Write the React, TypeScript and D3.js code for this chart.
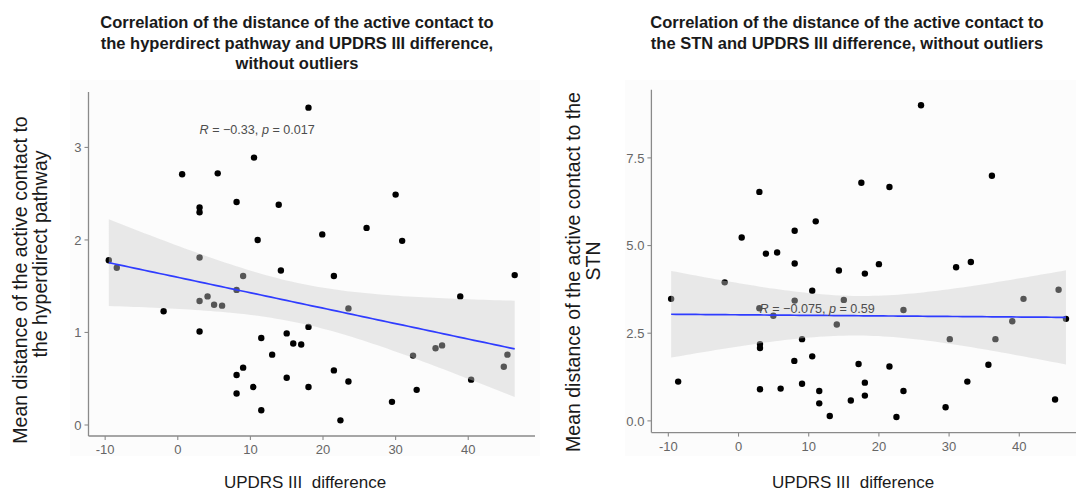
import React, { useRef, useEffect } from "react";
import * as d3 from "d3";

// distance to hyperdirect pathway vs UPDRS III difference
const hdpX = [-9.5, -8.4, -1.95, 0.6, 3.0, 3.0, 3.0, 3.0, 3.0, 4.1, 5.0, 5.5, 6.1, 8.1, 8.1, 8.1, 8.1, 9.0, 9.0, 10.4, 10.5, 11.0, 11.5, 11.5, 13.0, 13.9, 14.2, 15.0, 15.0, 15.9, 17.0, 18.0, 18.0, 18.0, 19.9, 21.5, 21.5, 22.4, 23.5, 23.5, 26.0, 29.5, 30.0, 30.9, 32.4, 32.9, 35.5, 36.4, 38.9, 40.4, 44.9, 45.4, 46.4];
const hdpY = [1.78, 1.70, 1.23, 2.71, 2.35, 2.30, 1.81, 1.34, 1.01, 1.39, 1.30, 2.72, 1.29, 2.41, 1.46, 0.54, 0.34, 1.61, 0.62, 0.41, 2.89, 2.00, 0.94, 0.16, 0.76, 2.38, 1.67, 0.99, 0.51, 0.88, 0.87, 3.43, 1.06, 0.41, 2.06, 1.61, 0.59, 0.05, 1.26, 0.47, 2.13, 0.25, 2.49, 1.99, 0.75, 0.38, 0.83, 0.86, 1.39, 0.49, 0.63, 0.76, 1.62];

// distance to STN vs UPDRS III difference
const stnX = [-9.6, -8.6, -1.97, 0.45, 2.97, 2.97, 3.06, 3.06, 3.06, 3.9, 4.96, 5.5, 6.0, 7.95, 8.0, 8.0, 8.0, 9.05, 9.05, 10.5, 10.5, 11.0, 11.5, 11.5, 13.0, 14.0, 14.3, 15.0, 16.0, 17.1, 17.5, 18.0, 18.0, 18.0, 20.0, 21.5, 21.5, 22.5, 23.5, 23.5, 26.0, 29.5, 30.1, 31.0, 32.6, 33.1, 35.6, 36.1, 36.6, 39.0, 40.6, 45.1, 45.6, 46.65];
const stnY = [3.48, 1.12, 3.95, 5.23, 6.53, 3.21, 2.19, 2.08, 0.90, 4.77, 3.0, 4.80, 0.92, 1.71, 5.42, 4.49, 3.43, 2.33, 1.06, 3.71, 1.84, 5.69, 0.85, 0.50, 0.14, 2.75, 4.29, 3.45, 0.58, 1.62, 6.79, 4.20, 1.09, 0.72, 4.47, 6.67, 1.55, 0.11, 3.16, 0.85, 9.0, 0.39, 2.33, 4.38, 1.12, 4.53, 1.60, 6.99, 2.33, 2.84, 3.48, 0.61, 3.74, 2.91];

const xTicks = [-10, 0, 10, 20, 30, 40];
const hdpYTicks = [0, 1, 2, 3];
const stnYTicks = [0, 2.5, 5, 7.5];

const hdpTitle = [
  "Correlation of the distance of the active contact to",
  "the hyperdirect pathway and UPDRS III difference,",
  "without outliers",
];
const stnTitle = [
  "Correlation of the distance of the active contact to",
  "the STN and UPDRS III difference, without outliers",
];
const hdpYLabel = ["Mean distance of the active contact to", "the hyperdirect pathway"];
const stnYLabel = ["Mean distance of the active contact to the", "STN"];
const xLabel = "UPDRS III  difference";
const hdpStat = { r: "\u22120.33", p: "0.017" };
const stnStat = { r: "\u22120.075", p: "0.59" };

const FONT = "'Liberation Sans', Arial, Helvetica, sans-serif";
const T_CRIT = 2.007;

const fitLine = (xs: number[], ys: number[]) => {
  const n = xs.length;
  const mx = d3.mean(xs) as number;
  const my = d3.mean(ys) as number;
  const sxx = d3.sum(xs, (x) => (x - mx) ** 2);
  const sxy = d3.sum(xs, (x, i) => (x - mx) * (ys[i] - my));
  const b = sxy / sxx;
  const a = my - b * mx;
  const s = Math.sqrt(d3.sum(xs, (x, i) => (ys[i] - a - b * x) ** 2) / (n - 2));
  const [x0, x1] = d3.extent(xs) as [number, number];
  return d3.range(81).map((i) => {
    const x = x0 + ((x1 - x0) * i) / 80;
    const y = a + b * x;
    const se = s * Math.sqrt(1 / n + (x - mx) ** 2 / sxx);
    return { x, y, lo: y - T_CRIT * se, hi: y + T_CRIT * se };
  });
};

const expand = (v: number[]) => {
  const [lo, hi] = d3.extent(v) as [number, number];
  const pad = (hi - lo) * 0.05;
  return [lo - pad, hi + pad];
};

const panels = [
  {
    xs: hdpX, ys: hdpY, yTicks: hdpYTicks, fmt: d3.format("d"),
    xRange: [88.5, 535], yRange: [436, 92],
    bg: [70, 80, 470, 376],
    title: hdpTitle, titleX: 297,
    yLabel: hdpYLabel, yLabelX: [20, 40], yLabelY: [280, 254],
    xLabelX: 305, stat: hdpStat, statAt: [3, 3.15],
  },
  {
    xs: stnX, ys: stnY, yTicks: stnYTicks, fmt: d3.format(".1f"),
    xRange: [651.4, 1085.7], yRange: [432.6, 89.7],
    bg: [625, 80, 451, 376],
    title: stnTitle, titleX: 847,
    yLabel: stnYLabel, yLabelX: [573, 593], yLabelY: [272, 261],
    xLabelX: 853, stat: stnStat, statAt: [3, 3.08],
  },
];

const App = () => {
  const ref = useRef<SVGSVGElement>(null);

  useEffect(() => {
    const svg = d3.select(ref.current);
    svg.selectAll("*").remove();

    panels.forEach((p) => {
      const x = d3.scaleLinear().domain(expand(p.xs)).range(p.xRange);
      const y = d3.scaleLinear().domain(expand(p.ys)).range(p.yRange);
      const g = svg.append("g").style("font-family", FONT);
      const ax = p.xRange[0];
      const ay = p.yRange[0];

      g.append("rect")
        .attr("x", p.bg[0]).attr("y", p.bg[1])
        .attr("width", p.bg[2]).attr("height", p.bg[3])
        .attr("fill", "#fcfcfc");

      // titles
      g.selectAll(".title")
        .data(p.title)
        .enter()
        .append("text")
        .attr("x", p.titleX)
        .attr("y", (d, i) => 28 + i * 20.5)
        .attr("text-anchor", "middle")
        .attr("font-size", 16.5)
        .attr("font-weight", "bold")
        .attr("fill", "#1a1a1a")
        .text((d) => d);

      // points
      g.selectAll(".pt")
        .data(p.xs)
        .enter()
        .append("circle")
        .attr("cx", (d) => x(d))
        .attr("cy", (d, i) => y(p.ys[i]))
        .attr("r", 3.2)
        .attr("fill", "#000");

      // smooth + confidence band
      const fit = fitLine(p.xs, p.ys);
      g.append("path")
        .datum(fit)
        .attr("d", d3.area<any>().x((d) => x(d.x)).y0((d) => y(d.lo)).y1((d) => y(d.hi)))
        .attr("fill", "#cccccc")
        .attr("fill-opacity", 0.42);
      g.append("path")
        .datum(fit)
        .attr("d", d3.line<any>().x((d) => x(d.x)).y((d) => y(d.y)))
        .attr("fill", "none")
        .attr("stroke", "#2f3cff")
        .attr("stroke-width", 1.7);

      // correlation label
      const lab = g.append("text")
        .attr("x", x(p.statAt[0]))
        .attr("y", y(p.statAt[1]))
        .attr("font-size", 12.6)
        .attr("fill", "#4d4d4d");
      lab.append("tspan").attr("font-style", "italic").text("R");
      lab.append("tspan").text(` = ${p.stat.r}, `);
      lab.append("tspan").attr("font-style", "italic").text("p");
      lab.append("tspan").text(` = ${p.stat.p}`);

      // axes
      const axisColor = "#8a8a8a";
      g.append("line")
        .attr("x1", ax).attr("x2", ax)
        .attr("y1", p.yRange[1]).attr("y2", ay)
        .attr("stroke", axisColor).attr("stroke-width", 1.3);
      g.append("line")
        .attr("x1", ax).attr("x2", p.xRange[1])
        .attr("y1", ay).attr("y2", ay)
        .attr("stroke", axisColor).attr("stroke-width", 1.3);

      const yt = g.selectAll(".yt").data(p.yTicks).enter().append("g");
      yt.append("line")
        .attr("x1", ax - 4).attr("x2", ax)
        .attr("y1", (d) => y(d)).attr("y2", (d) => y(d))
        .attr("stroke", axisColor).attr("stroke-width", 1.1);
      yt.append("text")
        .attr("x", ax - 7)
        .attr("y", (d) => y(d))
        .attr("dy", "0.36em")
        .attr("text-anchor", "end")
        .attr("font-size", 13)
        .attr("fill", "#666")
        .text((d) => p.fmt(d));

      const xt = g.selectAll(".xt").data(xTicks).enter().append("g");
      xt.append("line")
        .attr("x1", (d) => x(d)).attr("x2", (d) => x(d))
        .attr("y1", ay).attr("y2", ay + 4)
        .attr("stroke", axisColor).attr("stroke-width", 1.1);
      xt.append("text")
        .attr("x", (d) => x(d))
        .attr("y", ay + 18)
        .attr("text-anchor", "middle")
        .attr("font-size", 13)
        .attr("fill", "#666")
        .text((d) => d);

      // axis titles
      g.append("text")
        .attr("x", p.xLabelX)
        .attr("y", 488)
        .attr("text-anchor", "middle")
        .attr("font-size", 17)
        .attr("fill", "#1a1a1a")
        .style("white-space", "pre")
        .text(xLabel);

      p.yLabel.forEach((line, i) => {
        g.append("text")
          .attr("transform", `translate(${p.yLabelX[i]},${p.yLabelY[i]}) rotate(-90)`)
          .attr("dy", "0.36em")
          .attr("text-anchor", "middle")
          .attr("font-size", 19.5)
          .attr("fill", "#1a1a1a")
          .text(line);
      });
    });
  }, []);

  return (
    <svg
      ref={ref}
      width={1076}
      height={492}
      style={{ position: "absolute", left: 0, top: 0, background: "#fff" }}
    />
  );
};

export default App;
